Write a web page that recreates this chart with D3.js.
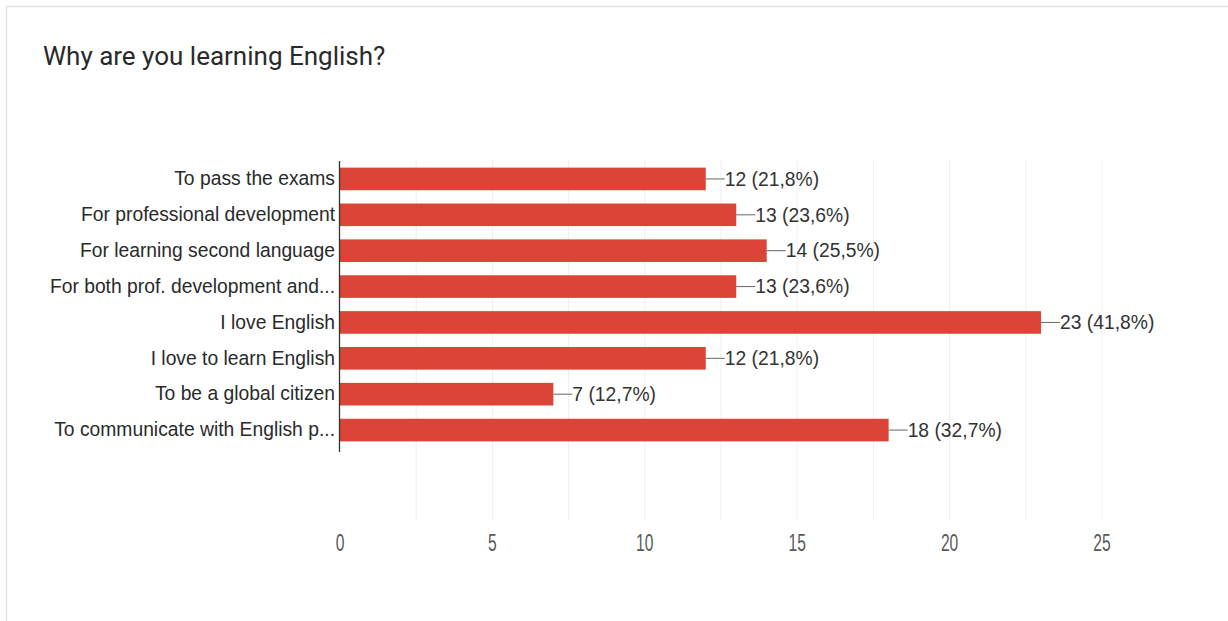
<!DOCTYPE html>
<html><head><meta charset="utf-8">
<script src="https://cdn.jsdelivr.net/npm/d3@7"></script>
<style>html,body{margin:0;padding:0;background:#fff;}</style>
</head><body>
<script>
const title = "Why are you learning English?";
const categories = ["To pass the exams","For professional development","For learning second language","For both prof. development and...","I love English","I love to learn English","To be a global citizen","To communicate with English p..."];
const counts = [12,13,14,13,23,12,7,18];
const percents = ["21,8%","23,6%","25,5%","23,6%","41,8%","21,8%","12,7%","32,7%"];
const tickValues = [0,5,10,15,20,25];
const gridValues = [2.5,5,7.5,10,12.5,15,17.5,20,22.5,25];

const W = 1228, H = 621;
const svg = d3.select("body").append("svg").attr("width", W).attr("height", H);
svg.append("rect").attr("width", W).attr("height", H).attr("fill", "#fff");
// card border
svg.append("path").attr("d", `M6.5,${H} V6.5 H${W}`).attr("fill","none").attr("stroke","#e3e3e3").attr("stroke-width",1.5);

svg.append("text").attr("x", 43).attr("y", 65).text(title)
  .attr("font-family","Roboto, 'Noto Sans', sans-serif").attr("font-size", 26).attr("fill","#2a2a2a");

const x = d3.scaleLinear().domain([0,25]).range([340,1102]);
const y = d3.scaleBand().domain(categories).range([161,448]).paddingInner(0.37).paddingOuter(0.185);

// gridlines
svg.append("g").selectAll("line").data(gridValues).join("line")
  .attr("x1", d=>x(d)).attr("x2", d=>x(d)).attr("y1",160).attr("y2",520)
  .attr("stroke","#efefef").attr("stroke-width",1);

// bars
svg.append("g").selectAll("rect").data(categories).join("rect")
  .attr("x", x(0)).attr("y", d=>y(d)).attr("height", y.bandwidth())
  .attr("width", (d,i)=>x(counts[i])-x(0)).attr("fill","#db4437");

// axis line
svg.append("line").attr("x1",339.5).attr("x2",339.5).attr("y1",161).attr("y2",452).attr("stroke","#333").attr("stroke-width",1.3);

// category labels
const yAxis = d3.axisLeft(y).tickSize(0).tickPadding(5);
const gy = svg.append("g").attr("transform","translate(340,0)").call(yAxis);
gy.select(".domain").remove();
gy.selectAll("text").attr("font-family","'Liberation Sans', Arial, sans-serif").attr("font-size",19.3).attr("fill","#2a2a2a");

// value labels with leaders
const vl = svg.append("g");
categories.forEach((c,i)=>{
  const xe = x(counts[i]), yc = y(c)+y.bandwidth()/2;
  vl.append("line").attr("x1",xe).attr("x2",xe+19).attr("y1",yc).attr("y2",yc).attr("stroke","#666").attr("stroke-width",1);
  vl.append("text").attr("x",xe+19).attr("y",yc).attr("dy","0.35em")
    .text(`${counts[i]} (${percents[i]})`)
    .attr("font-family","'Liberation Sans', Arial, sans-serif").attr("font-size",19.3).attr("fill","#333");
});

// x axis tick labels (condensed look)
const gx = svg.append("g");
gx.selectAll("text").data(tickValues).join("text")
  .attr("transform", d=>`translate(${x(d)},551) scale(0.68,1)`)
  .attr("text-anchor","middle").text(d=>d)
  .attr("font-family","'Liberation Sans', Arial, sans-serif").attr("font-size",23).attr("fill","#5a5a5a");
</script>
</body></html>
